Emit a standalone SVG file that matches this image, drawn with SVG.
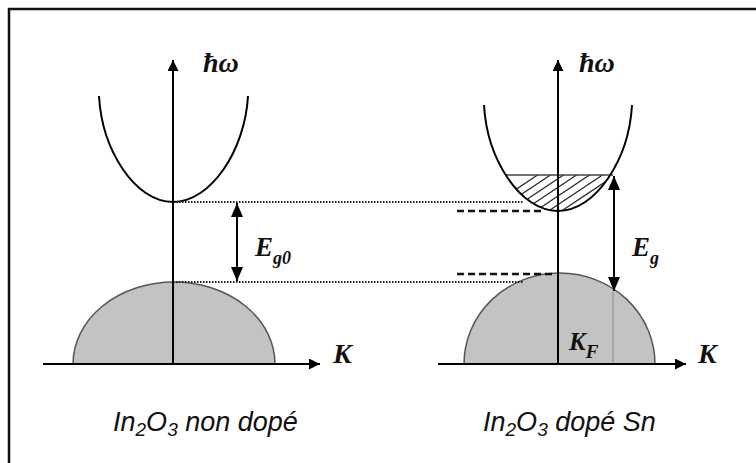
<svg xmlns="http://www.w3.org/2000/svg" width="756" height="463" viewBox="0 0 756 463">
<style>
.ax{stroke:#000;stroke-width:2;fill:none}
.band{fill:none;stroke:#000;stroke-width:2}
.val{fill:#c3c3c3;stroke:#555;stroke-width:1.5}
.dot{stroke:#222;stroke-width:2;stroke-dasharray:1.5 1.5;fill:none}
.dash{stroke:#111;stroke-width:2.5;stroke-dasharray:7 4;fill:none}
.lbl{font-family:"Liberation Serif","Times New Roman",serif;font-weight:bold;font-style:italic;fill:#111}
.cap{font-family:"Liberation Sans",Arial,sans-serif;font-style:italic;font-size:27px;fill:#111}
.hatch{stroke:#222;stroke-width:1.2}
</style>
<defs>
<marker id="ah" viewBox="0 0 10 10" refX="10" refY="5" markerWidth="11" markerHeight="11" markerUnits="userSpaceOnUse" orient="auto-start-reverse">
<path d="M0,0 L10,5 L0,10 Z" fill="#000"/>
</marker>
<marker id="ahb" viewBox="0 0 10 10" refX="10" refY="5" markerWidth="14" markerHeight="12" markerUnits="userSpaceOnUse" orient="auto-start-reverse" preserveAspectRatio="none">
<path d="M0,0 L10,5 L0,10 Z" fill="#000"/>
</marker>
<clipPath id="clipPar">
<path d="M484,105 C487,159 520,211 558,211 C596,211 629,159 632,105 Z"/>
</clipPath>
<clipPath id="clipTop">
<rect x="470" y="175" width="180" height="45"/>
</clipPath>
</defs>
<rect width="756" height="463" fill="#fff"/>
<path d="M9,463 L9,9 L756,9" fill="none" stroke="#111" stroke-width="2.5"/>

<g id="left-diagram">
<path id="left-valence" class="val" d="M73,364 A101,82 0 0 1 275,364 Z"/>
<path id="left-conduction" class="band" d="M99,96 C102,150 135,202 173,202 C211,202 245,150 248,96"/>
</g>

<g id="right-diagram">
<path id="right-valence" class="val" d="M464,364 A95.5,91 0 0 1 655,364 Z"/>
<g id="hatch" clip-path="url(#clipTop)">
<g clip-path="url(#clipPar)">
<g class="hatch">
<line x1="470" y1="220" x2="545" y2="170"/>
<line x1="483" y1="220" x2="558" y2="170"/>
<line x1="496" y1="220" x2="571" y2="170"/>
<line x1="509" y1="220" x2="584" y2="170"/>
<line x1="522" y1="220" x2="597" y2="170"/>
<line x1="535" y1="220" x2="610" y2="170"/>
<line x1="548" y1="220" x2="623" y2="170"/>
<line x1="561" y1="220" x2="636" y2="170"/>
<line x1="574" y1="220" x2="649" y2="170"/>
</g>
</g>
</g>
<line x1="506" y1="175" x2="613" y2="175" stroke="#444" stroke-width="1.5"/>
<path id="right-conduction" class="band" d="M484,105 C487,159 520,211 558,211 C596,211 629,159 632,105"/>
<line id="kf-line" x1="613" y1="292" x2="613" y2="364" stroke="#888" stroke-width="1"/>
</g>

<g id="connectors">
<line class="dot" x1="173" y1="202" x2="523" y2="202"/>
<line class="dot" x1="173" y1="282" x2="523" y2="282"/>
<line class="dash" x1="457" y1="211" x2="543" y2="211"/>
<line class="dash" x1="457" y1="274" x2="552" y2="274"/>
<line class="ax" x1="173" y1="364" x2="173" y2="60" marker-end="url(#ah)"/>
<line class="ax" x1="43" y1="364" x2="320" y2="364" marker-end="url(#ah)"/>
<line class="ax" x1="558" y1="364" x2="558" y2="60" marker-end="url(#ah)"/>
<line class="ax" x1="438" y1="364" x2="686" y2="364" marker-end="url(#ah)"/>
<line class="ax" x1="237" y1="203" x2="237" y2="281" marker-start="url(#ahb)" marker-end="url(#ahb)"/>
<line class="ax" x1="614" y1="176" x2="614" y2="291" marker-start="url(#ahb)" marker-end="url(#ahb)"/>
</g>

<g id="labels">
<text class="lbl" x="203" y="72" font-size="28">ħω</text>
<text class="lbl" x="579" y="72" font-size="28">ħω</text>
<text class="lbl" x="255" y="256" font-size="27">E<tspan font-size="18" dy="8">g0</tspan></text>
<text class="lbl" x="632" y="256" font-size="27">E<tspan font-size="18" dy="8">g</tspan></text>
<text class="lbl" x="569" y="350" font-size="25">K<tspan font-size="19" dy="8">F</tspan></text>
<text class="lbl" x="333" y="363" font-size="28">K</text>
<text class="lbl" x="698" y="363" font-size="28">K</text>
<text class="cap" x="113" y="431">In<tspan font-size="19" dy="5">2</tspan><tspan dy="-5">O</tspan><tspan font-size="19" dy="5">3</tspan><tspan dy="-5"> non dopé</tspan></text>
<text class="cap" x="483" y="431">In<tspan font-size="19" dy="5">2</tspan><tspan dy="-5">O</tspan><tspan font-size="19" dy="5">3</tspan><tspan dy="-5"> dopé Sn</tspan></text>
</g>
</svg>
